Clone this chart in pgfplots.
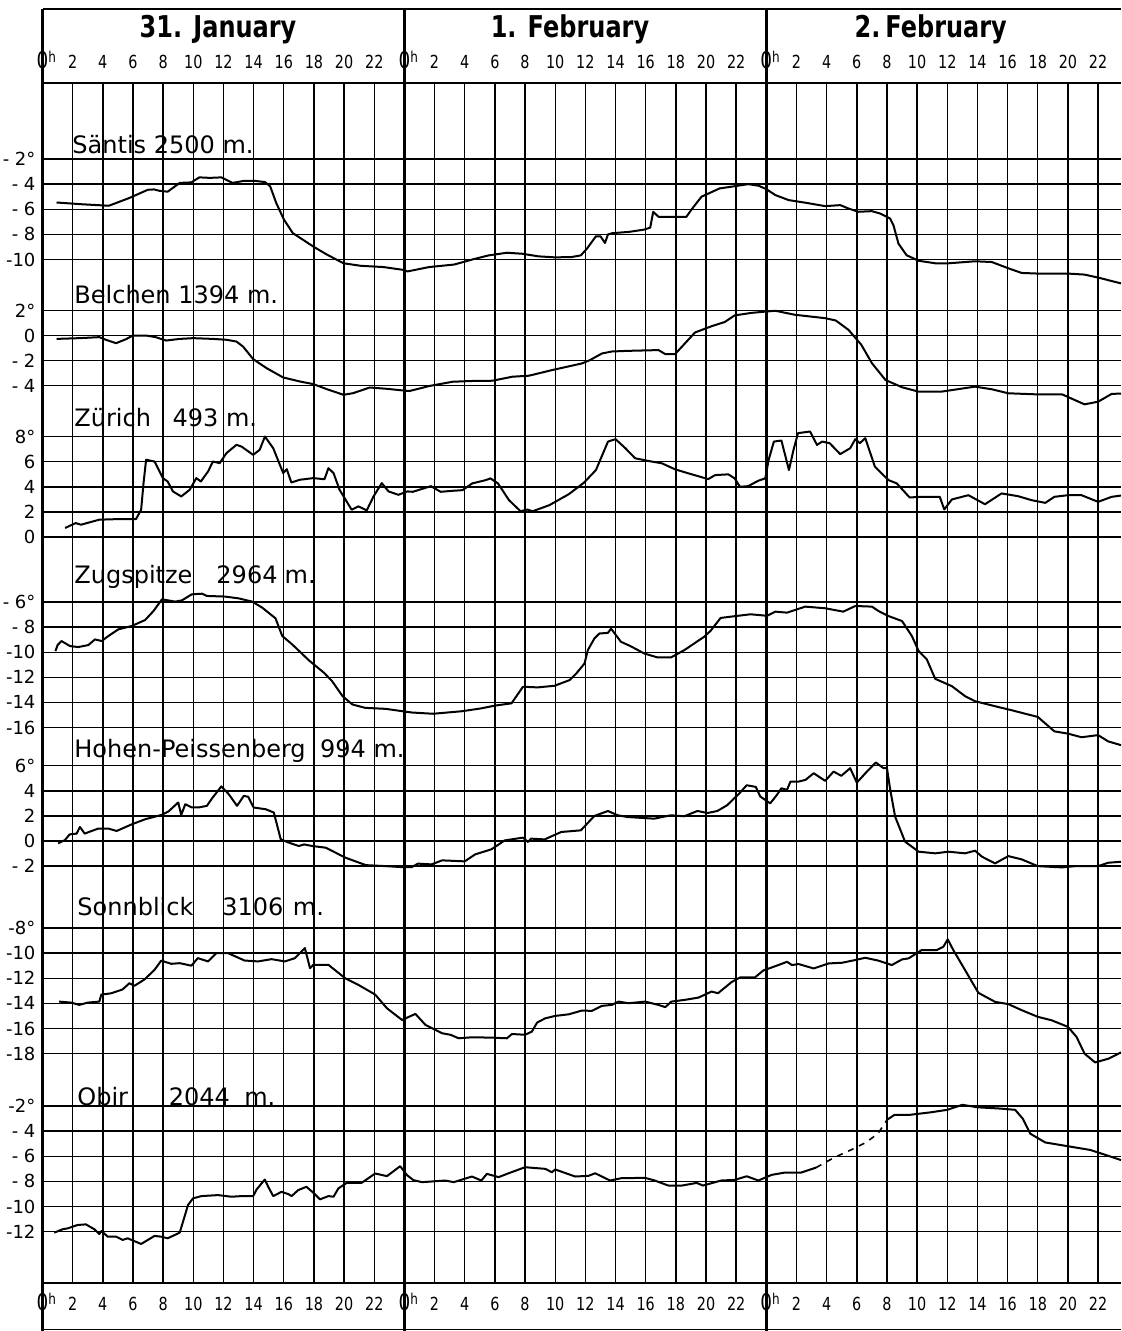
\documentclass[border=0pt]{standalone}
\usepackage{graphicx}
\usepackage{pgfplots}
\pgfplotsset{compat=1.18}
\usepackage{pgfplotstable}
\usepackage{fontspec}
\setmainfont{DejaVu Sans}
\newfontfamily\condfont[FakeStretch=0.8]{DejaVu Sans}

\pgfplotstableread{
h T
0.93 -5.46
2.6 -5.6
4.4 -5.72
5.76 -5.1
6.98 -4.45
7.4 -4.42
7.76 -4.53
8.3 -4.6
9.1 -3.9
9.87 -3.86
10.4 -3.46
11.1 -3.5
11.86 -3.46
12.6 -3.9
13.4 -3.73
14.0 -3.73
14.75 -3.83
15.1 -4.18
15.5 -5.5
16.0 -6.8
16.6 -7.9
18.0 -9.0
18.85 -9.6
19.96 -10.3
21.1 -10.5
22.6 -10.6
23.95 -10.83
24.2 -10.95
25.65 -10.6
27.3 -10.4
28.5 -10.0
29.6 -9.67
30.8 -9.46
31.8 -9.54
32.9 -9.75
34.0 -9.83
35.1 -9.8
35.7 -9.67
36.1 -9.14
36.7 -8.15
37.0 -8.15
37.3 -8.68
37.5 -8.0
37.8 -7.9
38.9 -7.8
39.9 -7.62
40.3 -7.46
40.5 -6.2
40.85 -6.6
41.7 -6.6
42.7 -6.6
43.05 -6.0
43.7 -5.0
44.9 -4.34
45.7 -4.2
46.8 -4.0
47.5 -4.13
48.0 -4.4
48.6 -4.87
49.48 -5.27
50.6 -5.48
51.9 -5.75
52.9 -5.67
53.45 -5.94
54.1 -6.2
55.0 -6.15
55.55 -6.34
56.2 -6.73
56.43 -7.27
56.76 -8.73
57.3 -9.66
58.1 -10.1
59.2 -10.3
60.1 -10.3
61.84 -10.14
62.95 -10.2
64.05 -10.7
64.93 -11.07
66.03 -11.12
68.0 -11.12
69.1 -11.2
70.0 -11.44
71.52 -11.9
}\saentis

\pgfplotstableread{
h T
0.93 -0.27
2.44 -0.21
3.77 -0.13
4.2 -0.34
4.88 -0.61
5.54 -0.29
5.99 0
6.87 0
7.5 -0.13
8.2 -0.4
9.1 -0.27
10.0 -0.21
11.3 -0.27
12.2 -0.34
12.86 -0.48
13.3 -0.88
13.97 -1.88
14.86 -2.6
15.96 -3.34
17.07 -3.66
17.96 -3.87
18.85 -4.27
19.96 -4.72
20.6 -4.59
21.7 -4.14
22.8 -4.24
23.95 -4.38
24.33 -4.42
25.65 -4.02
27.2 -3.68
28.5 -3.62
29.84 -3.6
31.16 -3.28
32.26 -3.2
33.8 -2.75
35.78 -2.22
36.3 -1.96
37.1 -1.43
37.77 -1.27
38.87 -1.22
40.85 -1.16
41.3 -1.48
41.95 -1.48
42.6 -0.63
43.27 0.24
44.37 0.74
45.25 1.08
45.9 1.6
47.0 1.8
47.9 1.9
48.6 1.97
49.9 1.65
51.9 1.38
52.6 1.2
53.45 0.45
54.3 -0.74
55.0 -2.2
55.9 -3.54
57.0 -4.12
58.1 -4.47
59.6 -4.47
61.84 -4.07
62.95 -4.28
64.05 -4.6
65.8 -4.68
67.6 -4.68
69.1 -5.48
70.0 -5.27
70.9 -4.65
71.52 -4.62
}\belchen

\pgfplotstableread{
h T
1.5 0.72
2.2 1.11
2.55 0.98
3.77 1.38
5.1 1.43
6.2 1.43
6.54 2.17
6.7 4.29
6.87 6.15
7.43 6.01
7.98 4.69
8.3 4.42
8.65 3.63
9.2 3.23
9.76 3.76
10.2 4.69
10.5 4.42
10.98 5.22
11.3 6.01
11.75 5.88
12.2 6.68
12.86 7.34
13.2 7.2
13.97 6.54
14.4 6.94
14.75 8.0
15.3 7.07
15.96 5.09
16.2 5.4
16.5 4.34
17.07 4.56
17.96 4.69
18.7 4.6
18.96 5.48
19.3 5.09
19.7 3.76
20.5 2.17
20.95 2.44
21.5 2.12
21.95 3.23
22.5 4.29
22.95 3.63
23.6 3.36
24.2 3.63
24.55 3.6
25.76 4.05
26.4 3.6
27.2 3.68
27.85 3.73
28.5 4.27
29.4 4.53
29.7 4.67
30.2 4.27
30.94 2.93
31.7 2.05
32.15 2.19
32.5 2.05
33.6 2.53
34.9 3.41
35.9 4.32
36.7 5.33
37.5 7.6
38.0 7.79
38.65 7.07
39.3 6.27
40.2 6.05
41.07 5.87
41.95 5.39
42.83 5.07
44.15 4.61
44.6 4.93
45.48 4.99
45.9 4.67
46.25 4.0
46.8 4.05
47.46 4.48
47.93 4.67
48.15 6.13
48.5 7.6
49.0 7.68
49.5 5.33
49.8 6.93
50.1 8.27
50.9 8.4
51.36 7.33
51.7 7.6
52.2 7.47
52.9 6.6
53.56 7.07
53.9 7.79
54.2 7.47
54.56 7.87
55.2 5.6
56.1 4.53
56.65 4.27
57.5 3.15
58.3 3.2
59.5 3.2
59.8 2.19
60.3 2.99
61.4 3.33
62.5 2.61
63.6 3.47
64.7 3.25
65.6 2.93
66.5 2.72
67.1 3.2
68.0 3.33
68.9 3.33
70.0 2.8
70.9 3.2
71.52 3.3
}\zurich

\pgfplotstableread{
h T
0.86 -9.91
1.0 -9.43
1.26 -9.11
1.82 -9.51
2.37 -9.59
3.04 -9.43
3.48 -8.98
3.92 -9.11
4.37 -8.71
5.03 -8.18
5.92 -7.91
6.8 -7.44
7.36 -6.72
7.92 -5.79
8.8 -5.97
9.25 -5.87
9.9 -5.39
10.58 -5.34
10.9 -5.52
12.1 -5.57
13.0 -5.71
13.9 -5.97
14.57 -6.45
15.45 -7.3
15.9 -8.71
16.56 -9.38
17.67 -10.65
18.67 -11.64
19.2 -12.3
19.9 -13.5
20.55 -14.16
21.4 -14.43
22.77 -14.51
23.88 -14.7
24.5 -14.8
25.9 -14.9
27.8 -14.7
29.1 -14.47
30.0 -14.25
31.1 -14.07
31.86 -12.75
32.85 -12.8
33.96 -12.67
34.95 -12.22
35.4 -11.69
35.94 -10.9
36.16 -9.84
36.6 -8.9
36.93 -8.51
37.5 -8.46
37.7 -8.12
38.36 -9.17
39.0 -9.52
39.9 -10.1
40.8 -10.42
41.67 -10.42
42.55 -9.84
43.87 -8.78
44.3 -8.3
44.97 -7.27
45.85 -7.14
46.95 -6.98
48.05 -7.1
48.6 -6.77
49.37 -6.85
50.58 -6.37
51.9 -6.5
53.1 -6.77
53.9 -6.32
55.0 -6.37
55.44 -6.72
56.1 -7.12
57.0 -7.52
57.65 -8.71
58.1 -9.9
58.64 -10.57
59.2 -12.12
60.3 -12.7
61.18 -13.5
61.84 -13.9
63.17 -14.3
64.27 -14.62
65.37 -14.96
66.0 -15.15
67.1 -16.3
68.0 -16.48
68.9 -16.77
70.0 -16.6
70.67 -17.1
71.52 -17.4
}\zugspitze

\pgfplotstableread{
h T
1.04 -0.19
1.49 0.08
1.8 0.53
2.26 0.59
2.48 1.12
2.8 0.59
3.26 0.8
3.7 0.99
4.37 0.99
4.92 0.8
5.92 1.33
6.8 1.73
7.9 2.08
8.35 2.35
9.0 3.07
9.2 2.08
9.47 2.93
9.9 2.67
10.35 2.67
10.9 2.8
11.24 3.39
11.86 4.35
12.35 3.73
12.9 2.8
13.35 3.6
13.64 3.52
14.0 2.67
14.8 2.53
15.34 2.27
15.8 0.13
16.34 -0.13
17.0 -0.4
17.34 -0.27
17.9 -0.4
18.78 -0.53
20.1 -1.33
21.44 -1.92
22.77 -2.0
23.88 -2.08
24.5 -2.07
24.9 -1.8
25.8 -1.86
26.5 -1.54
28.0 -1.62
28.7 -1.06
29.77 -0.66
30.65 0.05
31.86 0.27
32.2 -0.08
32.4 0.19
33.3 0.13
34.4 0.72
35.7 0.85
36.6 2.0
37.5 2.39
38.14 2.05
38.8 1.91
40.56 1.78
41.67 2.05
42.55 1.97
43.43 2.39
44.1 2.23
44.75 2.39
45.4 2.85
46.2 3.78
46.7 4.44
47.3 4.31
47.6 3.54
48.26 3.0
48.7 3.67
49.0 4.2
49.37 4.07
49.6 4.73
50.14 4.73
50.6 4.87
51.14 5.4
51.9 4.79
52.46 5.53
52.97 5.19
53.56 5.8
54.0 4.65
54.67 5.53
55.26 6.25
55.77 5.8
56.0 5.8
56.2 4.2
56.54 1.94
57.2 -0.05
58.1 -0.85
59.2 -0.98
60.08 -0.85
61.18 -0.98
61.84 -0.77
62.3 -1.25
63.17 -1.78
64.05 -1.2
64.93 -1.46
66.0 -2.0
67.6 -2.1
68.5 -2.0
70.0 -2.0
70.67 -1.73
71.52 -1.65
}\hohen

\pgfplotstableread{
h T
1.1 -13.86
1.9 -13.94
2.44 -14.12
3.0 -13.94
3.77 -13.86
3.9 -13.3
4.55 -13.2
5.3 -12.9
5.76 -12.4
6.1 -12.6
6.76 -12.1
7.43 -11.33
7.87 -10.6
8.54 -10.85
9.1 -10.8
9.87 -11.0
10.3 -10.4
10.98 -10.66
11.53 -10.0
12.3 -10.0
13.4 -10.59
14.3 -10.66
15.19 -10.48
16.08 -10.66
16.74 -10.4
17.4 -9.6
17.74 -11.2
17.96 -10.93
18.96 -10.93
20.07 -12.0
20.95 -12.53
22.06 -13.3
22.84 -14.39
23.84 -15.32
24.73 -14.84
25.4 -15.72
25.94 -16.04
26.5 -16.38
27.05 -16.5
27.6 -16.78
28.5 -16.7
29.8 -16.73
30.8 -16.78
31.13 -16.44
32.0 -16.5
32.45 -16.25
32.8 -15.53
33.34 -15.19
34.0 -15.0
34.9 -14.87
35.77 -14.57
36.43 -14.6
37.1 -14.2
37.75 -14.12
38.2 -13.86
38.86 -13.99
39.96 -13.86
40.84 -14.12
41.3 -14.3
41.7 -13.86
42.6 -13.72
43.5 -13.54
44.37 -13.06
44.8 -13.19
45.7 -12.3
46.25 -11.94
47.24 -11.94
47.8 -11.38
48.8 -10.95
49.37 -10.69
49.7 -10.95
50.14 -10.87
51.14 -11.22
52.13 -10.82
53.0 -10.77
53.9 -10.55
54.56 -10.37
55.44 -10.6
56.32 -10.95
57.0 -10.5
57.43 -10.42
58.3 -9.76
59.3 -9.76
59.74 -9.49
60.03 -8.9
60.4 -9.76
61.18 -11.35
62.06 -13.16
63.17 -13.88
64.05 -14.06
64.93 -14.54
66.0 -15.07
66.9 -15.34
68.0 -15.87
68.57 -16.67
69.1 -18.0
69.8 -18.7
70.7 -18.4
71.52 -17.9
}\sonnblick

\pgfplotstableread{
h T
0.78 -12.08
1.33 -11.81
1.66 -11.74
2.33 -11.47
2.88 -11.42
3.44 -11.81
3.77 -12.19
3.92 -11.95
4.32 -12.4
4.88 -12.4
5.32 -12.66
5.65 -12.53
6.54 -12.98
7.43 -12.34
7.87 -12.4
8.3 -12.53
9.1 -12.08
9.65 -9.88
9.98 -9.35
10.53 -9.17
11.64 -9.09
12.53 -9.22
13.2 -9.17
13.97 -9.17
14.2 -8.64
14.74 -7.85
14.97 -8.43
15.3 -9.17
15.85 -8.83
16.3 -9.01
16.52 -9.17
16.96 -8.69
17.5 -8.43
17.96 -8.9
18.4 -9.43
18.96 -9.17
19.3 -9.22
19.62 -8.56
20.18 -8.11
21.17 -8.11
22.06 -7.37
22.84 -7.58
23.72 -6.79
24.17 -7.5
24.6 -7.9
25.17 -8.06
26.72 -7.93
27.27 -8.06
28.48 -7.61
29.1 -7.93
29.47 -7.4
30.25 -7.66
30.8 -7.4
32.0 -6.87
33.34 -7.0
33.78 -7.27
34.0 -7.05
35.32 -7.61
36.2 -7.56
36.65 -7.35
37.64 -7.93
38.4 -7.74
39.96 -7.72
40.6 -7.93
41.5 -8.33
42.4 -8.33
43.38 -8.12
43.8 -8.33
45.0 -7.93
45.9 -7.88
46.7 -7.59
47.47 -7.93
48.35 -7.48
49.2 -7.3
50.3 -7.3
51.3 -6.9
}\obira

\pgfplotstableread{
h T
51.3 -6.9
52.5 -6.1
53.6 -5.5
54.6 -4.9
55.4 -4.2
56.0 -3.1
}\obirdash

\pgfplotstableread{
h T
56.0 -3.1
56.5 -2.7
57.5 -2.7
58.9 -2.5
60.0 -2.3
61.0 -1.9
62.0 -2.1
63.5 -2.2
64.5 -2.3
65.0 -3.0
65.5 -4.2
66.5 -4.9
67.5 -5.1
69.5 -5.5
71.52 -6.3
}\obirb

\newcommand{\zh}{{\fontsize{11.5}{11.5}\selectfont 0}\rlap{\raisebox{0.55ex}{\fontsize{7.5}{7.5}\selectfont h}}}

\begin{document}
\begin{tikzpicture}
\pgfplotsset{
  chartbase/.style={
    scale only axis, width=539.25pt, height=600pt,
    xmin=0, xmax=71.52, ymin=83, ymax=1283, y dir=reverse,
    at={(21.25pt,-41.5pt)}, anchor=north west,
    axis line style={draw=none}, major tick length=0pt, clip=false,
    xtick={0,2,...,70},
    xticklabels={{\zh},2,4,6,8,10,12,14,16,18,20,22,
      {\zh},2,4,6,8,10,12,14,16,18,20,22,
      {\zh},2,4,6,8,10,12,14,16,18,20,22},
  }
}
\begin{axis}[chartbase,
  xticklabel style={font=\condfont\fontsize{9}{9}\selectfont, anchor=base, yshift=-13.5pt},
  ytick={159.0,184.1,209.3,234.4,259.5,310.4,335.5,360.6,385.7,436.5,461.6,486.8,511.9,537.0,602.0,627.1,652.2,677.3,702.4,727.6,765.6,790.8,815.9,841.0,866.1,928.0,953.1,978.2,1003.3,1028.5,1053.6,1106.0,1131.1,1156.3,1181.4,1206.5,1231.6},
  yticklabels={- 2°,- 4,- 6,- 8,-10,2°,0,- 2,- 4,8°,6,4,2,0,- 6°,- 8,-10,-12,-14,-16,6°,4,2,0,- 2,-8°,-10,-12,-14,-16,-18,-2°,- 4,- 6,- 8,-10,-12},
  yticklabel style={font=\fontsize{9}{9}\selectfont, anchor=east},
  xmajorgrids, ymajorgrids,
  grid style={black, line width=0.7pt},
]
\draw[black, line width=0.8pt] (0,9) -- (71.52,9);
\draw[black, line width=0.8pt] (0,83) -- (71.52,83);
\draw[black, line width=0.8pt] (0,1283) -- (71.52,1283);
\draw[black, line width=0.5pt] (0,1329.5) -- (71.52,1329.5);
\draw[black, line width=1.2pt] (0,9) -- (0,1331);
\draw[black, line width=1.2pt] (24,9) -- (24,1331);
\draw[black, line width=1.2pt] (48,9) -- (48,1331);

\addplot[black, line width=1pt, line join=round] table[x=h, y expr=133.9-12.56*\thisrow{T}] {\saentis};
\addplot[black, line width=1pt, line join=round] table[x=h, y expr=335.5-12.56*\thisrow{T}] {\belchen};
\addplot[black, line width=1pt, line join=round] table[x=h, y expr=537.0-12.56*\thisrow{T}] {\zurich};
\addplot[black, line width=1pt, line join=round] table[x=h, y expr=526.6-12.56*\thisrow{T}] {\zugspitze};
\addplot[black, line width=1pt, line join=round] table[x=h, y expr=841.0-12.56*\thisrow{T}] {\hohen};
\addplot[black, line width=1pt, line join=round] table[x=h, y expr=827.5-12.56*\thisrow{T}] {\sonnblick};
\addplot[black, line width=1pt, line join=round] table[x=h, y expr=1080.9-12.56*\thisrow{T}] {\obira};
\addplot[black, line width=0.8pt, dashed] table[x=h, y expr=1080.9-12.56*\thisrow{T}] {\obirdash};
\addplot[black, line width=1pt, line join=round] table[x=h, y expr=1080.9-12.56*\thisrow{T}] {\obirb};

\node[anchor=base, font=\condfont\bfseries\fontsize{15}{15}\selectfont] at (11.64,37) {31. January};
\node[anchor=base, font=\condfont\bfseries\fontsize{15}{15}\selectfont] at (34.98,37) {1. February};
\node[anchor=base, font=\condfont\bfseries\fontsize{15}{15}\selectfont] at (58.9,37) {2.\,February};

\node[anchor=base west, inner sep=0pt, font=\fontsize{12}{12}\selectfont] at (1.96,153) {Säntis 2500 m.};
\node[anchor=base west, inner sep=0pt, font=\fontsize{12}{12}\selectfont] at (2.09,303) {Belchen 1394 m.};
\node[anchor=base west, inner sep=0pt, font=\fontsize{12}{12}\selectfont] at (2.09,426) {Zürich\hspace{0.9em}493 m.};
\node[anchor=base west, inner sep=0pt, font=\fontsize{12}{12}\selectfont] at (2.09,583) {Zugspitze\hspace{1em}2964\hspace{0.3em}m.};
\node[anchor=base west, inner sep=0pt, font=\fontsize{12}{12}\selectfont] at (2.09,757) {Hohen-Peissenberg\hspace{0.6em}994 m.};
\node[anchor=base west, inner sep=0pt, font=\fontsize{12}{12}\selectfont] at (2.29,915) {Sonnblick\hspace{1.2em}3106\hspace{0.4em}m.};
\node[anchor=base west, inner sep=0pt, font=\fontsize{12}{12}\selectfont] at (2.29,1105) {Obir\hspace{1.7em}2044\hspace{0.6em}m.};
\end{axis}

\begin{axis}[chartbase,
  xticklabel pos=upper,
  xticklabel style={font=\condfont\fontsize{9}{9}\selectfont, anchor=base, yshift=7.5pt},
  ytick=\empty,
]
\end{axis}

\pgfresetboundingbox
\path[use as bounding box] (0,0) rectangle (560.5pt,-665.5pt);
\end{tikzpicture}
\end{document}
